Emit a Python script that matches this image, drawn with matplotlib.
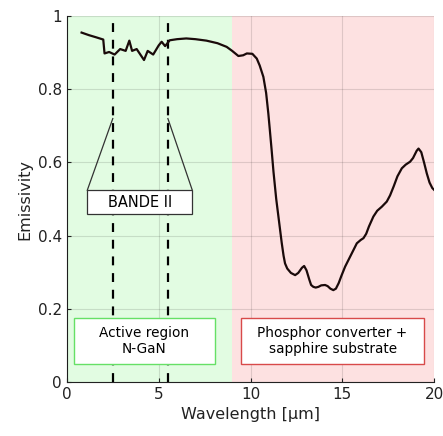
import matplotlib.pyplot as plt
from matplotlib.patches import Rectangle

# emissivity spectrum
wavelength = [0.8, 1.2, 1.6, 1.98, 2.05, 2.3, 2.6, 2.9, 3.2, 3.4, 3.55, 3.8, 4.0, 4.2, 4.4,
              4.7, 5.0, 5.16, 5.35, 5.6, 6.0, 6.5, 7.0, 7.6, 8.2, 8.7, 9.0, 9.34, 9.6, 9.8,
              10.1, 10.34, 10.5, 10.7, 10.85, 10.97, 11.05, 11.15, 11.25, 11.4, 11.55,
              11.7, 11.8, 11.88, 12.0, 12.2, 12.43, 12.6, 12.8, 12.92, 13.05, 13.2, 13.3,
              13.42, 13.55, 13.7, 13.85, 14.06, 14.2, 14.35, 14.51, 14.65, 14.8, 14.95,
              15.15, 15.5, 15.79, 16.0, 16.15, 16.3, 16.45, 16.69, 16.9, 17.15, 17.42,
              17.6, 17.8, 18.0, 18.24, 18.45, 18.69, 18.85, 18.95, 19.05, 19.15, 19.3,
              19.45, 19.6, 19.75, 19.9, 20.0]
emissivity = [0.955, 0.948, 0.942, 0.936, 0.898, 0.902, 0.895, 0.91, 0.905, 0.933, 0.905,
              0.91, 0.895, 0.88, 0.905, 0.895, 0.92, 0.93, 0.918, 0.934, 0.937, 0.939,
              0.937, 0.933, 0.926, 0.916, 0.905, 0.891, 0.893, 0.898, 0.897, 0.884,
              0.865, 0.834, 0.79, 0.734, 0.69, 0.634, 0.575, 0.50, 0.44, 0.38, 0.345,
              0.324, 0.31, 0.298, 0.292, 0.298, 0.312, 0.317, 0.305, 0.28, 0.265, 0.26,
              0.258, 0.26, 0.264, 0.265, 0.262, 0.255, 0.251, 0.255, 0.27, 0.29, 0.315,
              0.35, 0.379, 0.388, 0.393, 0.405, 0.425, 0.452, 0.468, 0.479, 0.493, 0.51,
              0.535, 0.562, 0.584, 0.594, 0.602, 0.612, 0.622, 0.632, 0.638, 0.628,
              0.6, 0.57, 0.545, 0.53, 0.525]

band_edges = [2.5, 5.5]
region_split = 9.0

fig = plt.figure(figsize=(4.43, 4.36), dpi=100)
ax = fig.add_axes([0.151, 0.124, 0.829, 0.839])
plt.rcParams['font.family'] = 'DejaVu Sans'

ax.axvspan(0, region_split, color="#e2fce2", zorder=0, lw=0)
ax.axvspan(region_split, 20, color="#fde1e1", zorder=0, lw=0)

ax.grid(True, color="black", alpha=0.12, lw=0.8, zorder=1)
ax.set_axisbelow(False)

for x in band_edges:
    ax.axvline(x, color="black", ls=(0, (4, 3.5)), lw=1.6, zorder=3)

ax.plot(wavelength, emissivity, color="#1a0a0a", lw=1.6, zorder=4,
        solid_joinstyle="round")

# BANDE II callout
ax.plot([1.11, band_edges[0]], [0.524, 0.72], color="#333333", lw=0.9, zorder=5)
ax.plot([6.83, band_edges[1]], [0.524, 0.72], color="#333333", lw=0.9, zorder=5)
ax.add_patch(Rectangle((1.11, 0.46), 5.72, 0.064, facecolor="white",
                       edgecolor="#333333", lw=0.9, zorder=6))
ax.text(3.97, 0.491, "BANDE II", ha="center", va="center", fontsize=10.5, zorder=7)

# region labels
ax.add_patch(Rectangle((0.4, 0.05), 7.65, 0.125, facecolor="white",
                       edgecolor="#66e066", lw=1.0, zorder=6))
ax.text(4.22, 0.112, "Active region\nN-GaN", ha="center", va="center",
        fontsize=9.8, zorder=7, linespacing=1.2)
ax.add_patch(Rectangle((9.48, 0.05), 9.97, 0.125, facecolor="white",
                       edgecolor="#d84a4a", lw=1.0, zorder=6))
ax.text(14.47, 0.112, "Phosphor converter +\nsapphire substrate", ha="center",
        va="center", fontsize=9.8, zorder=7, linespacing=1.2)

ax.set_xlim(0, 20)
ax.set_ylim(0, 1)
ax.set_xticks([0, 5, 10, 15, 20])
ax.set_yticks([0, 0.2, 0.4, 0.6, 0.8, 1])
ax.set_yticklabels(["0", "0.2", "0.4", "0.6", "0.8", "1"])
ax.tick_params(direction="in", labelsize=11, length=3, colors="#222222")
ax.set_xlabel("Wavelength [\u03bcm]", fontsize=11.5, color="#222222")
ax.set_ylabel("Emissivity", fontsize=11.5, color="#222222")
for side in ["top", "right"]:
    ax.spines[side].set_visible(False)
for side in ["left", "bottom"]:
    ax.spines[side].set_color("#222222")

fig.savefig("out.png", dpi=100)
